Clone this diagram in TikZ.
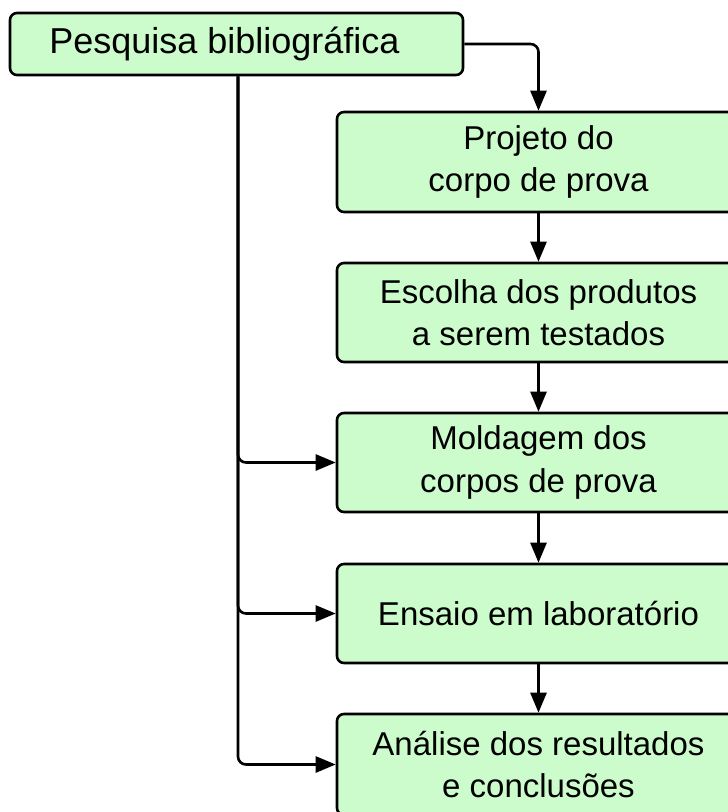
\documentclass[tikz,border=0pt]{standalone}
\usepackage{fontspec}
\setmainfont{Liberation Sans}
\usetikzlibrary{arrows.meta}
\definecolor{boxgreen}{HTML}{CCFCCC}
\begin{document}
\begin{tikzpicture}[x=1pt,y=1pt,
  flowbox/.style={draw=black, line width=2.6pt, fill=boxgreen, rounded corners=7pt,
    align=center, inner sep=0pt, font=\fontsize{33}{42.5}\selectfont},
  rightbox/.style={flowbox, minimum width=403pt},
  conn/.style={draw=black, line width=2.6pt, rounded corners=8pt,
    -{Triangle[length=20pt,width=16pt]}}]
\useasboundingbox (0,0) rectangle (728,-812);
\clip (0,0) rectangle (728,-812);
\node[flowbox, minimum width=453pt, minimum height=62pt, font=\fontsize{36}{42}\selectfont]
  (top) at (236.5,-44) {Pesquisa bibliográfica\kern 24pt};
\node[rightbox, minimum height=100pt] (b1) at (538.5,-162) {Projeto do\\corpo de prova};
\node[rightbox, minimum height=99pt] (b2) at (538.5,-312.5) {Escolha dos produtos\\a serem testados};
\node[rightbox, minimum height=99pt] (b3) at (538.5,-462.5) {Moldagem dos\\corpos de prova};
\node[rightbox, minimum height=99pt] (b4) at (538.5,-613.5) {Ensaio em laboratório};
\node[rightbox, minimum height=101pt] (b5) at (538.5,-764.5) {Análise dos resultados\\e conclusões};
\coordinate (L) at ([xshift=1.5pt]top.south);
\draw[conn] (top.east) -| (b1.north);
\draw[conn] (b1.south) -- (b2.north);
\draw[conn] (b2.south) -- (b3.north);
\draw[conn] (b3.south) -- (b4.north);
\draw[conn] (b4.south) -- (b5.north);
\draw[conn] (L) |- (b3.west);
\draw[conn] (L) |- (b4.west);
\draw[conn] (L) |- (b5.west);
\end{tikzpicture}
\end{document}
